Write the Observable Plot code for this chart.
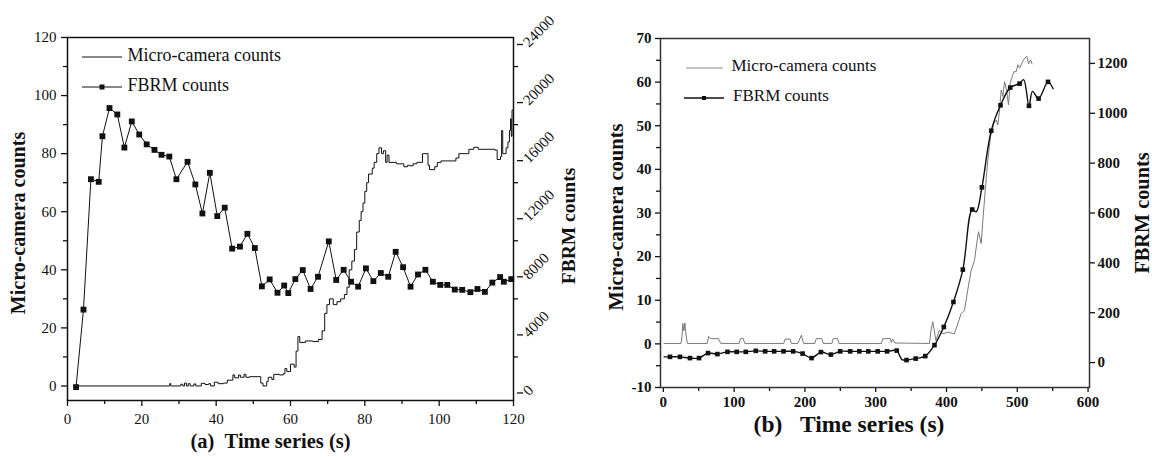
<!DOCTYPE html>
<html><head><meta charset="utf-8">
<script src="https://cdn.jsdelivr.net/npm/d3@7"></script>
<script src="https://cdn.jsdelivr.net/npm/@observablehq/plot@0.6"></script>
<style>
body{margin:0;background:#fff;}
#root{position:relative;width:1152px;height:457px;overflow:hidden;font-family:"Liberation Serif","Times New Roman",serif;color:#111;}
.layer{position:absolute;top:0;}
.lg{position:absolute;white-space:nowrap;line-height:20px;}
.sw{position:absolute;}
</style></head><body><div id="root"></div>
<script>
// ---------- Panel (a) data ----------
const microA = [[2.3,0],[27.5,0.8],[27.8,0],[30.5,0.6],[31,0],[31.5,1],[32,0],[32.5,0.8],[33,0],[34,0.7],[34.5,0],[36,0.9],[37,0.5],[38,0.8],[38.5,0],[39.5,1.3],[40.5,0.8],[42,1],[43,2],[44.5,3.8],[45,2.8],[46,3.8],[46.5,3],[47.5,4],[48,3],[49,3.2],[52,1],[52.6,0],[53.6,1.5],[54,3],[55,2.2],[55.5,4],[57,3.8],[58,4.2],[58.5,6],[59,5],[60,7.5],[61,6.5],[61.5,12],[62,17],[62.5,15],[64,15.5],[66,15.3],[67.5,16],[68.5,19],[69.2,25],[69.8,28],[70.5,30],[71.5,28],[72.5,29],[73.5,30],[74.5,31.5],[75.2,34],[75.8,40],[76.5,43],[77.2,47],[77.8,53],[78.5,57],[79,60],[79.5,63],[80,67],[80.5,70],[81,73],[82,75],[82.5,77],[83.2,80],[83.8,82],[84.5,80],[85,81],[85.6,77],[86,79.5],[86.5,77],[88.5,76.5],[90.5,75.5],[91.5,76],[92,75.8],[93,76.5],[94,77],[95.5,80],[97,76],[97.4,74.5],[98.8,75.5],[99.5,77],[100.5,77.5],[104.5,78.5],[105.3,80],[107,80],[108,81.5],[109.3,82.2],[110.5,81.5],[115,81.2],[115.6,78],[116.5,79],[116.8,88],[117.1,80],[118,82],[118.5,84],[118.9,88],[119.2,92],[119.4,86],[119.6,95],[120,95]];
const fbrmA = [[2.3,-80],[4.3,5260],[6.3,14240],[8.4,14060],[9.4,17200],[11.3,19140],[13.4,18700],[15.3,16420],[17.3,18220],[19.3,17320],[21.3,16640],[23.4,16260],[25.3,15920],[27.4,15800],[29.3,14240],[32.3,15440],[34.4,13880],[36.3,11880],[38.3,14680],[40.3,11700],[42.3,12280],[44.3,9460],[46.4,9600],[48.4,10480],[50.4,9500],[52.3,6860],[54.4,7340],[56.5,6420],[58.3,6920],[59.4,6400],[61.3,7360],[63.3,7980],[65.4,6680],[67.4,7520],[70.3,9960],[72.3,7300],[74.3,8000],[76.3,7180],[78.2,6840],[80.3,8100],[82.3,7220],[84.3,7780],[86.3,7520],[88.3,9240],[90.3,8180],[92.3,6840],[94.3,7680],[96.3,8000],[98.3,7180],[100.3,6960],[102.2,6960],[104.2,6640],[106.2,6620],[108.4,6460],[110.3,6680],[112.3,6480],[114.3,7120],[116.4,7500],[117.4,7180],[119.4,7360]];
const xTicksA = [0,20,40,60,80,100,120];
const xMinorA = [10,30,50,70,90,110];
const yTicksA = [0,20,40,60,80,100,120];
const yMinorA = [10,30,50,70,90,110];
const y2TicksA = [0,4000,8000,12000,16000,20000,24000];
const y2MinorA = [2000,6000,10000,14000,18000,22000];

// ---------- Panel (b) data ----------
const microB = [[1,0.1],[25,0.1],[26.5,2],[27.5,4.7],[29,3],[30.5,4.8],[32,2],[34,0.1],[62,0.1],[64,1.7],[67,1.2],[78,1.2],[81,0.1],[107,0.1],[109,1.2],[113,1.2],[115,0.1],[170,0.1],[172,1.1],[179,1.1],[181,0.1],[190,0.1],[195,2],[198,0.1],[214,0.1],[216,1.2],[224,1.2],[226,0.1],[238,0.1],[240,1.2],[246,1.2],[248,0.1],[308,0.1],[310,1.2],[321,1.2],[322,0.3],[324,1.1],[327,0.2],[376,0.1],[378,3],[380.6,5.1],[385,0.8],[390,3.1],[395,2.3],[402,2.7],[411,2.3],[416,4.6],[420.5,6.9],[425.4,7.7],[430,12.3],[434.8,16.8],[439.5,19.1],[443.3,23.7],[445.2,25.7],[449,23],[451.4,28.3],[454.7,35.2],[457.5,40.6],[459.4,43.7],[462.2,47.5],[467,50.6],[470.2,51.3],[472.6,50.2],[474.9,53.6],[477.3,58.2],[479.7,56.7],[482,60.1],[484.8,58.2],[487.6,54.8],[490,59.8],[492.9,61.3],[495.3,62.4],[498.5,62.4],[500.9,64],[503.2,63.2],[506.6,64.4],[510.3,65.5],[513.6,65.9],[515.9,64.2],[518.8,65.1],[520.8,64.2]];
const fbrmB = [[9.4,23],[23.5,23],[37.7,18],[50.4,18],[63.1,38],[76.4,34],[90.6,43],[103.7,43],[116.5,43],[130.6,47],[143.8,45],[156.5,45],[169.8,45],[183.4,45],[196.7,36],[209.4,18],[222.6,42],[236.7,32],[249.9,45],[264,45],[276.8,45],[289.5,45],[302.8,45],[316,45],[329.7,48],[343.5,10],[356.5,16],[370,26],[383,70],[396.2,143],[409.8,243],[423.1,373],[436.3,614],[450,703],[463.2,930],[476.3,1032],[490,1103],[503.2,1119],[516.5,1030],[530.1,1059],[543.4,1126]];
const fbrmBExtra = [[1,23],[333.5,30],[337,12],[442,605],[509,1135],[521.5,1088],[550.5,1099]];
const xTicksB = [0,100,200,300,400,500,600];
const xMinorB = [50,150,250,350,450,550];
const yTicksB = [-10,0,10,20,30,40,50,60,70];
const yMinorB = [-5,5,15,25,35,45,55,65];
const y2TicksB = [0,200,400,600,800,1000,1200];

const FONT = '"Liberation Serif", "Times New Roman", serif';
const INK = "#111";
const root = document.getElementById("root");
const X = d => d[0], Y = d => d[1];
const blank = () => "";
const plain = d => (d < 0 ? "-" : "") + Math.abs(d);

function place(svg, left) {
  const d = document.createElement("div");
  d.className = "layer"; d.style.left = left + "px";
  d.appendChild(svg); root.appendChild(d);
}

// ---------- Panel (a) ----------
const dimA = {width: 576, height: 457, marginLeft: 67, marginRight: 63, marginTop: 37, marginBottom: 57};
place(Plot.plot({
  ...dimA,
  style: {fontFamily: FONT, background: "transparent", color: INK, overflow: "visible"},
  x: {domain: [0, 120]},
  y: {domain: [-5, 120]},
  marks: [
    Plot.axisX({ticks: xTicksA, tickSize: 6, tickPadding: 7, fontSize: 15, strokeWidth: 1.3, label: null, tickFormat: plain}),
    Plot.axisX({ticks: xMinorA, tickSize: 4, tickFormat: blank, strokeWidth: 1.3, label: null}),
    Plot.axisY({ticks: yTicksA, tickSize: 6, tickPadding: 5, fontSize: 15, strokeWidth: 1.3, label: null, tickFormat: plain}),
    Plot.axisY({ticks: yMinorA, tickSize: 4, tickFormat: blank, strokeWidth: 1.3, label: null}),
    Plot.line(microA, {x: X, y: Y, curve: "step-after", stroke: INK, strokeWidth: 1}),
    Plot.frame({stroke: INK, strokeWidth: 1.5}),
    Plot.text(["Micro-camera counts"], {frameAnchor: "left", rotate: -90, textAnchor: "middle", dx: -49, dy: 4, fontSize: 20, fontWeight: "bold"}),
    Plot.text(["(a)\u00a0\u00a0Time series (s)"], {frameAnchor: "bottom", textAnchor: "middle", dx: -20, dy: 47, fontSize: 20.5, fontWeight: "bold"})
  ]
}), 0);
place(Plot.plot({
  ...dimA,
  style: {fontFamily: FONT, background: "transparent", color: INK, overflow: "visible"},
  x: {domain: [0, 120], axis: null},
  y: {domain: [-1000, 24000]},
  marks: [
    Plot.axisY({anchor: "right", ticks: y2TicksA, tickSize: 6, tickPadding: 3, tickRotate: -45, fontSize: 15, strokeWidth: 1.3, label: null, tickFormat: plain, dx: 3, dy: 7}),
    Plot.axisY({anchor: "right", ticks: y2MinorA, tickSize: 4, tickFormat: blank, strokeWidth: 1.3, label: null}),
    Plot.line(fbrmA, {x: X, y: Y, stroke: INK, strokeWidth: 1}),
    Plot.dot(fbrmA, {x: X, y: Y, symbol: "square", r: 3.3, fill: INK, stroke: null}),
    Plot.text(["FBRM counts"], {frameAnchor: "right", rotate: -90, textAnchor: "middle", dx: 55, dy: 7, fontSize: 19.5, fontWeight: "bold"})
  ]
}), 0);

// ---------- Panel (b) ----------
const dimB = {width: 576, height: 457, marginLeft: 84, marginRight: 63, marginTop: 38, marginBottom: 70};
place(Plot.plot({
  ...dimB,
  style: {fontFamily: FONT, background: "transparent", color: INK, overflow: "visible", fontWeight: "bold"},
  x: {domain: [-4, 602]},
  y: {domain: [-10, 70]},
  marks: [
    Plot.axisX({ticks: xTicksB, tickSize: 5, tickPadding: 4, fontSize: 15, strokeWidth: 1.3, label: null, tickFormat: plain}),
    Plot.axisX({ticks: xMinorB, tickSize: 4, tickFormat: blank, strokeWidth: 1.3, label: null}),
    Plot.axisY({ticks: yTicksB, tickSize: 5, tickPadding: 4, fontSize: 15, strokeWidth: 1.3, label: null, tickFormat: plain}),
    Plot.axisY({ticks: yMinorB, tickSize: 4, tickFormat: blank, strokeWidth: 1.3, label: null}),
    Plot.line(microB, {x: X, y: Y, stroke: "#7a7a7a", strokeWidth: 1}),
    Plot.frame({stroke: "#333", strokeWidth: 1.5}),
    Plot.text(["Micro-camera counts"], {frameAnchor: "left", rotate: -90, textAnchor: "middle", dx: -44, dy: 4, fontSize: 20.5, fontWeight: "bold"}),
    Plot.text(["(b)\u00a0\u00a0\u00a0Time series (s)"], {frameAnchor: "bottom", textAnchor: "middle", dx: -26, dy: 44, fontSize: 23.5, fontWeight: "bold"})
  ]
}), 576);
const fbrmBLine = [...fbrmB, ...fbrmBExtra].sort((a, b) => a[0] - b[0]);
place(Plot.plot({
  ...dimB,
  style: {fontFamily: FONT, background: "transparent", color: INK, overflow: "visible", fontWeight: "bold"},
  x: {domain: [-4, 602], axis: null},
  y: {domain: [-100, 1300]},
  marks: [
    Plot.axisY({anchor: "right", ticks: y2TicksB, tickSize: 5, tickPadding: 3, fontSize: 15, strokeWidth: 1.3, label: null, tickFormat: plain}),
    Plot.line(fbrmBLine, {x: X, y: Y, curve: "catmull-rom", stroke: INK, strokeWidth: 1.4}),
    Plot.dot(fbrmB, {x: X, y: Y, symbol: "square", r: 2.6, fill: INK, stroke: null}),
    Plot.text(["FBRM counts"], {frameAnchor: "right", rotate: -90, textAnchor: "middle", dx: 53, dy: 0, fontSize: 20.3, fontWeight: "bold"})
  ]
}), 576);

// ---------- Legends ----------
function swatch(left, top, w, color, sw, marker) {
  const ns = "http://www.w3.org/2000/svg";
  const s = document.createElementNS(ns, "svg");
  s.setAttribute("width", w); s.setAttribute("height", 12);
  s.setAttribute("class", "sw");
  s.style.left = left + "px"; s.style.top = (top - 6) + "px";
  const l = document.createElementNS(ns, "line");
  l.setAttribute("x1", 0); l.setAttribute("x2", w); l.setAttribute("y1", 6); l.setAttribute("y2", 6);
  l.setAttribute("stroke", color); l.setAttribute("stroke-width", sw);
  s.appendChild(l);
  if (marker) {
    const r = document.createElementNS(ns, "rect");
    r.setAttribute("x", w / 2 - marker / 2); r.setAttribute("y", 6 - marker / 2);
    r.setAttribute("width", marker); r.setAttribute("height", marker); r.setAttribute("fill", color);
    s.appendChild(r);
  }
  root.appendChild(s);
}
function label(text, left, cy, size) {
  const d = document.createElement("div");
  d.className = "lg"; d.textContent = text;
  d.style.left = left + "px"; d.style.top = (cy - 11) + "px"; d.style.fontSize = size + "px";
  root.appendChild(d);
}
swatch(82, 57, 40, INK, 1, 0);
label("Micro-camera counts", 127.5, 56, 18);
swatch(82, 87, 40, INK, 1, 5);
label("FBRM counts", 127.5, 86, 18);
swatch(686, 68, 37, "#8a8a8a", 1, 0);
label("Micro-camera counts", 731.5, 67, 17);
swatch(684, 98, 40, INK, 1.4, 4);
label("FBRM counts", 733, 97, 17);
</script>
</body></html>
